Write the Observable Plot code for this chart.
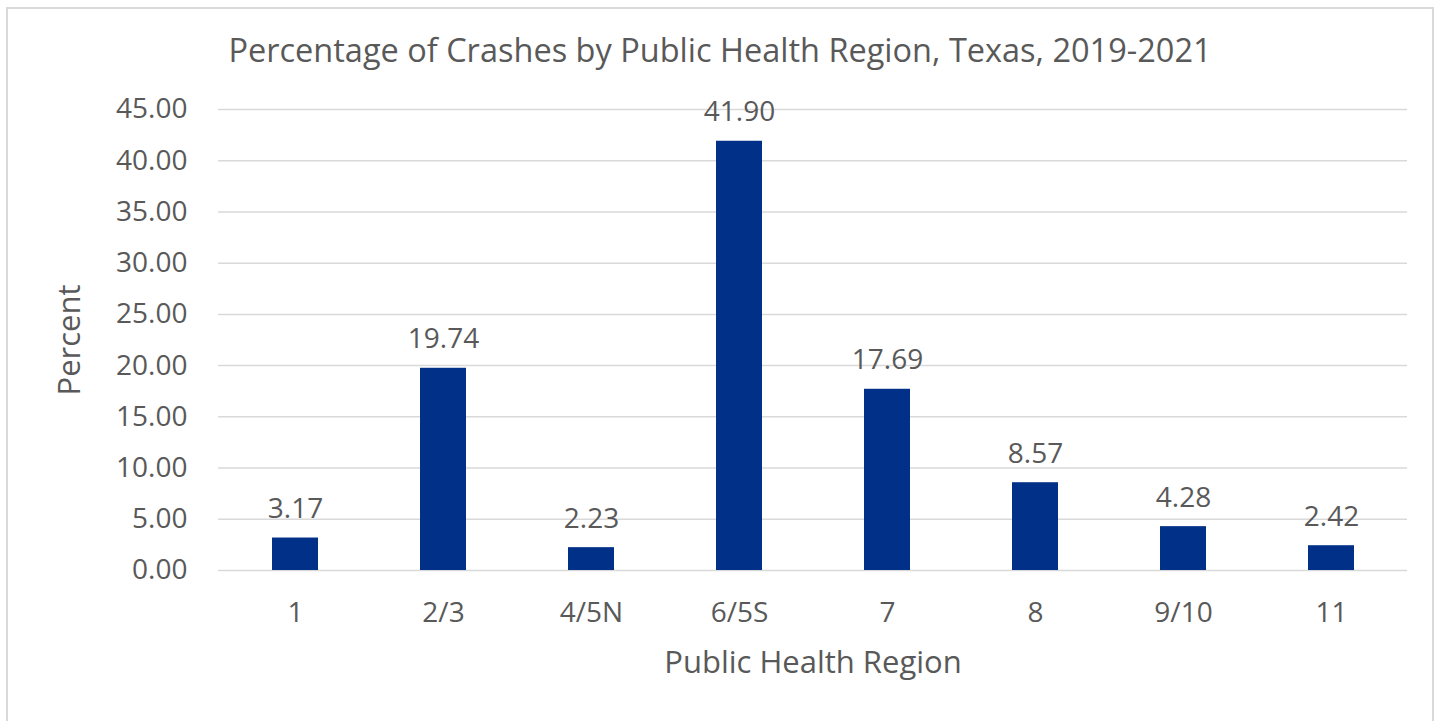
<!DOCTYPE html>
<html>
<head>
<meta charset="utf-8">
<script src="https://cdn.jsdelivr.net/npm/d3@7"></script>
<script src="https://cdn.jsdelivr.net/npm/@observablehq/plot@0.6"></script>
<style>
  html, body { margin: 0; padding: 0; background: #fff; }
  #wrap { position: relative; width: 1440px; height: 721px; overflow: hidden; font-family: "Open Sans", sans-serif; }
  #frame { position: absolute; left: 6px; top: 7px; width: 1428px; height: 730px; border: 2px solid #d9d9d9; box-sizing: border-box; }
  #title { position: absolute; left: 0; top: 29px; width: 1440px; text-align: center; font-size: 32.5px; line-height: 42px; color: #595959; }
  #chart { position: absolute; left: 0; top: 75px; }
</style>
</head>
<body>
<div id="wrap">
  <div id="frame"></div>
  <div id="title">Percentage of Crashes by Public Health Region, Texas, 2019-2021</div>
  <div id="chart"></div>
</div>
<script>
const regions = ["1", "2/3", "4/5N", "6/5S", "7", "8", "9/10", "11"];
const percents = [3.17, 19.74, 2.23, 41.90, 17.69, 8.57, 4.28, 2.42];
const yTicks = [0, 5, 10, 15, 20, 25, 30, 35, 40, 45];
const xTitle = "Public Health Region";
const yTitle = "Percent";

const data = regions.map((r, i) => ({region: r, value: percents[i]}));
const textColor = "#595959";

const chart = Plot.plot({
  width: 1440,
  height: 646,
  marginLeft: 218,
  marginRight: 33,
  marginTop: 34,
  marginBottom: 151,
  style: {fontFamily: "'Open Sans', sans-serif", color: textColor, background: "transparent"},
  x: {domain: regions, paddingInner: 0.69, paddingOuter: 0.345},
  y: {domain: [0, 45]},
  marks: [
    Plot.gridY(yTicks, {stroke: "#d9d9d9", strokeOpacity: 1, strokeWidth: 1.5}),
    Plot.axisY(yTicks, {tickSize: 0, tickPadding: 31, fontSize: 28, tickFormat: d => d.toFixed(2), label: null, fill: textColor}),
    Plot.axisX({tickSize: 0, tickPadding: 32, fontSize: 28, label: null, fill: textColor}),
    Plot.barY(data, {x: "region", y: "value", fill: "#003087"}),
    Plot.text(data, {x: "region", y: "value", text: d => d.value.toFixed(2), dy: -29, fontSize: 28, fill: textColor, lineAnchor: "middle"}),
    Plot.text([yTitle], {frameAnchor: "left", textAnchor: "middle", text: d => d, rotate: -90, dx: -148, fontSize: 31, fill: textColor}),
    Plot.text([xTitle], {frameAnchor: "bottom", text: d => d, dy: 102, fontSize: 31, fill: textColor})
  ]
});
document.getElementById("chart").appendChild(chart);
</script>
</body>
</html>
